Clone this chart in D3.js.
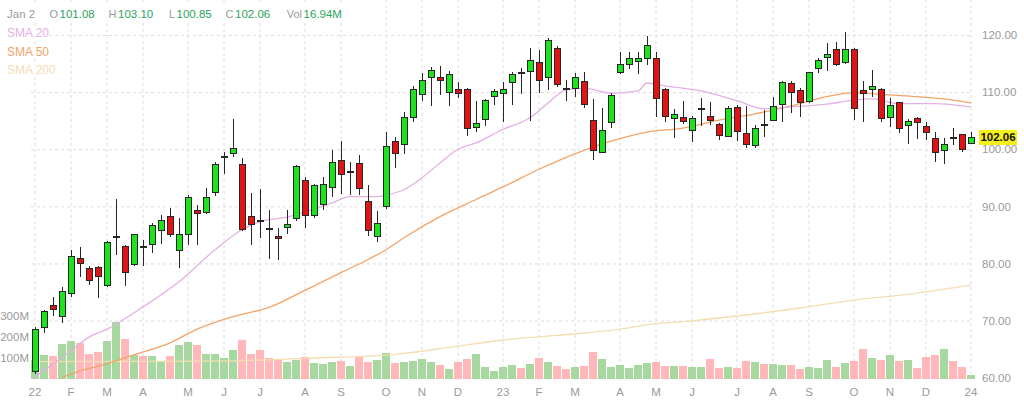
<!DOCTYPE html>
<html>
<head>
<meta charset="utf-8">
<script src="https://cdn.jsdelivr.net/npm/d3@7"></script>
<style>
  body { margin: 0; background: #fff; }
  svg text { font-family: Arial, "Liberation Sans", sans-serif; }
</style>
</head>
<body>
<svg id="chart" width="1024" height="408"></svg>
<script>
// weekly bars, Jan 3 2022 -> Jan 1 2024 (105 weeks)
var weeks = d3.timeMonday.range(new Date(2022, 0, 3), new Date(2024, 0, 2));
var fmtKey = d3.timeFormat("%Y-%m-%d");
var weekKeys = weeks.map(fmtKey);

var opens = [61.0,68.8,72.6,70.7,74.8,80.8,79.2,79.3,76.2,84.6,82.9,79.9,82.9,83.4,85.7,88.3,82.2,85.0,89.2,89.0,
  92.4,98.6,99.2,97.4,88.2,87.6,86.1,84.8,86.3,87.9,94.6,88.4,90.4,93.3,98.0,96.0,97.5,90.8,84.7,89.9,
  101.3,100.9,105.6,109.5,112.5,112.5,110.0,110.5,110.5,103.8,105.2,109.3,109.8,111.6,113.4,113.6,115.1,112.5,117.7,110.7,
  110.7,111.8,105.1,99.5,104.7,113.5,114.8,115.3,115.9,115.8,110.4,105.4,105.6,103.3,107.1,105.7,104.4,102.2,107.3,102.8,
  100.6,104.4,105.1,107.8,111.5,110.3,108.3,114.2,116.1,117.4,115.1,117.5,110.2,110.5,110.5,105.6,108.1,104.1,105.3,104.0,
  101.9,99.7,102.0,102.6,101.08];
var highs = [68.8,71.9,74.2,75.8,82.4,82.8,79.6,79.6,83.9,91.2,83.2,85.1,84.1,87.0,88.4,89.7,88.0,92.0,90.2,93.3,
  97.8,99.6,105.3,98.4,92.3,93.0,89.4,86.2,89.4,97.3,95.2,94.0,95.2,99.8,101.5,97.8,99.0,93.7,89.2,103.1,
  102.2,106.5,111.0,113.4,114.4,114.6,113.7,111.8,110.8,108.5,108.8,110.6,111.8,113.6,114.2,117.7,117.3,119.4,118.1,112.1,
  113.3,113.6,108.8,107.2,109.8,117.1,117.1,117.1,119.8,117.1,110.8,107.0,108.5,105.8,108.9,108.2,104.6,107.6,107.8,107.6,
  104.3,106.9,109.1,111.9,111.9,110.7,113.6,116.0,118.6,118.7,120.6,117.8,111.9,113.9,110.7,108.9,108.2,105.3,105.7,104.8,
  103.1,102.0,103.7,102.7,103.10];
var lows = [60.6,67.8,70.8,69.6,74.1,77.7,76.2,73.9,75.9,81.5,76.1,79.5,79.6,81.8,83.4,84.6,79.2,83.2,83.2,88.6,
  91.8,95.7,98.6,85.6,83.3,84.4,80.7,80.6,85.2,87.4,86.2,88.0,89.4,91.7,92.2,92.0,92.0,84.8,83.7,89.6,
  96.8,99.1,104.8,108.5,107.5,109.5,107.5,108.9,102.3,103.1,104.0,107.8,104.8,107.8,109.7,105.0,109.8,110.3,110.9,108.5,
  109.2,107.2,98.1,99.3,103.8,113.1,114.1,113.2,114.8,105.7,104.7,101.9,104.5,101.3,104.0,104.3,101.6,102.1,101.5,100.3,
  100.2,102.2,104.9,104.8,106.3,105.6,108.1,113.3,113.7,114.6,114.9,105.1,104.8,109.1,104.8,103.9,102.8,101.0,101.8,101.6,
  97.8,97.4,100.8,99.6,100.85];
var closes = [68.5,71.6,72.0,75.1,81.2,80.0,77.1,77.7,83.7,84.7,78.4,85.0,82.8,86.6,87.5,85.0,85.0,91.6,88.8,91.6,
  97.4,98.7,100.2,86.0,86.9,87.5,86.0,84.4,86.9,97.0,88.4,93.7,93.9,97.7,95.5,96.1,93.2,85.7,87.0,100.5,
  99.2,105.6,110.5,112.1,113.8,112.0,113.1,109.8,103.6,104.5,108.5,110.1,110.5,113.0,113.3,115.5,112.0,119.1,111.3,110.6,
  112.6,107.8,99.7,103.3,109.4,114.9,115.8,115.8,118.1,108.8,105.7,106.0,104.8,105.4,107.2,105.0,102.4,107.2,103.1,100.9,
  103.7,104.3,107.4,111.7,109.9,108.2,113.4,115.5,116.6,114.9,117.4,107.1,109.8,111.0,105.4,107.6,103.7,104.8,104.6,103.0,
  99.5,100.8,101.9,99.9,102.06];
// volume in millions
var volumes = [90,116,111,167,180,172,121,127,180,271,191,116,108,111,84,108,164,177,161,121,
  121,100,140,188,121,140,100,92,79,92,103,76,72,81,87,60,103,81,92,124,
  76,81,87,95,81,68,48,79,95,121,56,36,57,65,53,72,100,81,60,48,
  57,60,127,96,57,65,53,65,76,81,60,60,60,57,57,96,53,57,53,88,
  81,72,72,68,68,48,56,53,92,56,76,88,145,99,92,115,88,92,51,103,
  115,142,88,56,16.94];

// moving averages at selected weeks
var sma20Weeks = [0,4,6,8,12,16,20,23,25,28,33,35,38,39,41,43,45,47,49,52,55,57,59,61,64,67,68,70,74,78,81,84,88,91,93,96,100,104];
var sma20 = [60.1,64.7,67.1,68.5,72.4,76.8,82.4,85.9,87.3,88.1,90.6,91.7,91.7,92.0,92.9,95.0,97.6,100.0,101.1,103.5,105.5,108.1,110.4,110.7,109.8,110.2,111.6,111.1,110.2,108.5,107.1,107.4,107.9,108.6,108.8,108.0,108.0,107.4];
var sma50Weeks = [3,5,7,11,15,18,22,26,30,34,37,39,41,45,49,52,56,60,64,68,72,76,80,84,88,91,94,98,101,104];
var sma50 = [60.0,61.2,62.0,64.0,66.1,68.5,70.7,72.3,75.3,78.4,80.7,82.4,84.5,88.2,91.2,93.4,96.5,99.2,101.4,103.0,103.7,105.1,106.2,107.6,109.2,109.9,109.6,109.2,108.8,108.1];
var sma200Weeks = [0,20,30,40,46,52,58,65,68,72,78,85,91,97,104];
var sma200 = [62.8,62.9,63.4,64.1,65.3,66.6,67.4,68.5,69.3,69.8,70.8,72.2,73.6,74.6,76.2];

var priceTicks = [60, 70, 80, 90, 100, 110, 120];
var volTicks = [100, 200, 300];
var tickDates = ["2022-01-03","2022-01-31","2022-02-28","2022-03-28","2022-05-02","2022-05-30","2022-06-27",
  "2022-08-01","2022-08-29","2022-10-03","2022-10-31","2022-11-28","2023-01-02","2023-01-30","2023-02-27",
  "2023-04-03","2023-05-01","2023-05-29","2023-07-03","2023-07-31","2023-08-28","2023-10-02","2023-10-30",
  "2023-11-27","2024-01-01"];
var tickLabels = ["22","F","M","A","M","J","J","A","S","O","N","D","23","F","M","A","M","J","J","A","S","O","N","D","24"];

var upFill = "#1ee21e", downFill = "#e01414", edge = "#262626";
var volUp = "#a6d8a0", volDown = "#ffb7ba";
var gridColor = "#dcdcdc", labelColor = "#9a9a9a", valueColor = "#2aa35c";
var smaColors = ["#e4b0e4", "#f2a468", "#f4ddb2"];

var svg = d3.select("#chart");

var x = d3.scaleBand().domain(weekKeys).range([30.5, 975.5]).paddingInner(0.22).paddingOuter(0.11);
var y = d3.scaleLinear().domain([60, 120]).range([377.7, 35]);
var yVol = d3.scaleLinear().domain([0, 300]).range([379, 316]);
function cx(i) { return x(weekKeys[i]) + x.bandwidth() / 2; }

// grid
var gy = svg.append("g")
  .attr("transform", "translate(970,0)")
  .call(d3.axisLeft(y).tickValues(priceTicks).tickSize(940).tickFormat(""));
gy.select(".domain").remove();
gy.selectAll("line").attr("stroke", gridColor).attr("stroke-dasharray", "3,3");

var gx = svg.append("g")
  .attr("transform", "translate(0,380)")
  .call(d3.axisTop(x).tickValues(tickDates).tickSize(380).tickFormat(""));
gx.select(".domain").remove();
gx.selectAll("line").attr("stroke", gridColor).attr("stroke-dasharray", "3,3");

// volume
svg.append("g").selectAll("rect")
  .data(volumes)
  .enter().append("rect")
  .attr("x", function (d, i) { return x(weekKeys[i]); })
  .attr("width", x.bandwidth())
  .attr("y", function (d) { return yVol(d); })
  .attr("height", function (d) { return yVol(0) - yVol(d); })
  .attr("fill", function (d, i) { return closes[i] >= opens[i] ? volUp : volDown; })
  .attr("shape-rendering", "crispEdges");

// moving averages
function smaLine(ws, vals, color) {
  var pts = ws.map(function (w, k) { return [cx(w), y(vals[k])]; });
  svg.append("path")
    .attr("d", d3.line().curve(d3.curveMonotoneX)(pts))
    .attr("fill", "none")
    .attr("stroke", color)
    .attr("stroke-width", 1.3);
}
smaLine(sma200Weeks, sma200, smaColors[2]);
smaLine(sma50Weeks, sma50, smaColors[1]);
smaLine(sma20Weeks, sma20, smaColors[0]);

// candles
var candles = svg.append("g").attr("shape-rendering", "crispEdges");
weekKeys.forEach(function (k, i) {
  var c = Math.round(cx(i)) + 0.5;
  candles.append("line")
    .attr("x1", c).attr("x2", c)
    .attr("y1", y(highs[i])).attr("y2", y(lows[i]))
    .attr("stroke", edge).attr("stroke-width", 1);
  var top = y(Math.max(opens[i], closes[i]));
  var h = Math.max(1, Math.abs(y(opens[i]) - y(closes[i])));
  candles.append("rect")
    .attr("x", c - 3).attr("width", 6)
    .attr("y", top).attr("height", h)
    .attr("fill", closes[i] >= opens[i] ? upFill : downFill)
    .attr("stroke", edge).attr("stroke-width", 1);
});

// right price axis
var ay = svg.append("g")
  .attr("transform", "translate(978,0)")
  .call(d3.axisRight(y).tickValues(priceTicks).tickSize(0).tickPadding(4).tickFormat(d3.format(".2f")));
ay.select(".domain").remove();
ay.selectAll("text").attr("fill", labelColor).style("font-size", "11.5px");

// volume labels
var av = svg.append("g")
  .attr("transform", "translate(30,0)")
  .call(d3.axisLeft(yVol).tickValues(volTicks).tickSize(0).tickPadding(1).tickFormat(function (d) { return d + "M"; }));
av.select(".domain").remove();
av.selectAll("text").attr("fill", labelColor).style("font-size", "11.5px");

// bottom month labels
var ax = svg.append("g")
  .attr("transform", "translate(0,380)")
  .call(d3.axisBottom(x).tickValues(tickDates).tickSize(0).tickPadding(8)
    .tickFormat(function (d, i) { return tickLabels[i]; }));
ax.select(".domain").remove();
ax.selectAll("text").attr("fill", labelColor).style("font-size", "11.5px");

// last price tag
var last = closes[closes.length - 1];
svg.append("rect")
  .attr("x", 979).attr("y", y(last) - 7.5)
  .attr("width", 38).attr("height", 15)
  .attr("fill", "#f5ef1a");
svg.append("text")
  .attr("x", 998).attr("y", y(last) + 4)
  .attr("text-anchor", "middle")
  .attr("font-size", "11.5px").attr("font-weight", "bold")
  .attr("fill", "#111")
  .text(d3.format(".2f")(last));

// header: label (right-aligned) + value
var hdr = [
  { k: "O", v: d3.format(".2f")(opens[104]), x: 59.5 },
  { k: "H", v: d3.format(".2f")(highs[104]), x: 118 },
  { k: "L", v: d3.format(".2f")(lows[104]), x: 176.5 },
  { k: "C", v: d3.format(".2f")(last), x: 235 },
  { k: "Vol", v: volumes[104] + "M", x: 303.5 }
];
svg.append("rect").attr("x", 0).attr("y", 4).attr("width", 345).attr("height", 17).attr("fill", "#fff");
svg.append("text").attr("x", 7).attr("y", 18).attr("font-size", "11.5px").attr("fill", labelColor).text("Jan 2");
hdr.forEach(function (d) {
  svg.append("text")
    .attr("x", d.x - 1.5).attr("y", 18)
    .attr("text-anchor", "end")
    .attr("font-size", "11px").attr("fill", labelColor)
    .text(d.k);
  svg.append("text")
    .attr("x", d.x).attr("y", 18)
    .attr("font-size", "11.5px").attr("fill", valueColor)
    .text(d.v);
});

// legend
var legend = ["SMA 20", "SMA 50", "SMA 200"];
legend.forEach(function (t, k) {
  svg.append("rect").attr("x", 4).attr("y", 26 + k * 18.5).attr("width", t.length * 7).attr("height", 14).attr("fill", "#fff");
  svg.append("text")
    .attr("x", 7).attr("y", 37 + k * 18.5)
    .attr("font-size", "12px")
    .attr("fill", smaColors[k])
    .text(t);
});
</script>
</body>
</html>
